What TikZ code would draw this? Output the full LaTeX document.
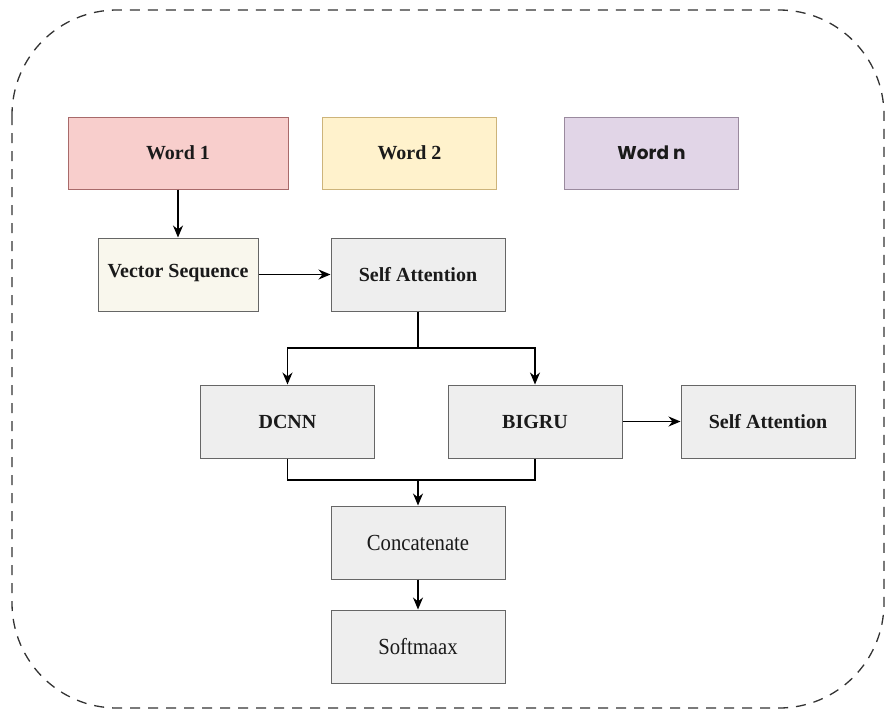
\documentclass[tikz,border=0pt]{standalone}
\usepackage{fontspec}
\setmainfont{Liberation Serif}
\newfontfamily\popfont{Poppins}
\usetikzlibrary{arrows.meta}
\definecolor{redfill}{HTML}{F8CECC}
\definecolor{redline}{HTML}{A86A6A}
\definecolor{yelfill}{HTML}{FFF2CC}
\definecolor{yelline}{HTML}{CDB47A}
\definecolor{purfill}{HTML}{E1D5E7}
\definecolor{purline}{HTML}{9A8A9E}
\definecolor{grayfill}{HTML}{EEEEEE}
\definecolor{grayline}{HTML}{666666}
\definecolor{cream}{HTML}{F9F7ED}
\definecolor{txt}{HTML}{1A1A1A}
\tikzset{
  box/.style={draw=grayline, fill=grayfill, line width=1pt, minimum width=174pt, minimum height=73pt, inner sep=0pt, text=txt, font=\fontsize{20}{22}\selectfont\bfseries},
  narrowbox/.style={box, font=\fontsize{23}{26}\selectfont},
  arr/.style={draw=black, line width=1.3pt, -{Stealth[length=12pt,width=10pt]}},
  conn/.style={draw=black, line width=1.3pt},
  border/.style={draw=black!80, line width=1.3pt, dash pattern=on 10pt off 8pt, rounded corners=105pt}
}
\begin{document}
\begin{tikzpicture}[x=1pt,y=-1pt]
\useasboundingbox (0,0) rectangle (888,713);
\draw[border] (12,10) rectangle (884,708);

\node[box, draw=redline, fill=redfill, minimum width=220pt, minimum height=72pt] (w1) at (178,153) {Word 1};
\node[box, draw=yelline, fill=yelfill, minimum height=72pt] (w2) at (409.5,153) {Word 2};
\node[box, draw=purline, fill=purfill, minimum height=72pt, font=\popfont\fontsize{18.5}{22}\selectfont\bfseries] (wn) at (651.5,153) {Word n};

\node[box, fill=cream, minimum width=160pt] (vs) at (178,274.5) {\raisebox{7pt}{Vector Sequence}};
\node[box] (sa1) at (418,274.5) {Self Attention};
\node[box] (dcnn) at (287.5,421.5) {DCNN};
\node[box] (bigru) at (535,421.5) {BIGRU};
\node[box] (sa2) at (768,421.5) {Self Attention};
\node[narrowbox] (cat) at (418,542.5) {\scalebox{0.9}[1]{Concatenate}};
\node[narrowbox] (soft) at (418,646.5) {\scalebox{0.9}[1]{Softmaax}};

\coordinate (j1) at (418,348);
\coordinate (j2) at (418,480);

\draw[arr] (w1.south) -- (vs.north);
\draw[arr] (vs.east) -- (sa1.west);
\draw[conn] (sa1.south) -- (j1);
\draw[arr] (j1) -| (dcnn.north);
\draw[arr] (j1) -| (bigru.north);
\draw[arr] (bigru.east) -- (sa2.west);
\draw[conn] (dcnn.south) |- (j2) -| (bigru.south);
\draw[arr] (j2) -- (cat.north);
\draw[arr] (cat.south) -- (soft.north);
\end{tikzpicture}
\end{document}
